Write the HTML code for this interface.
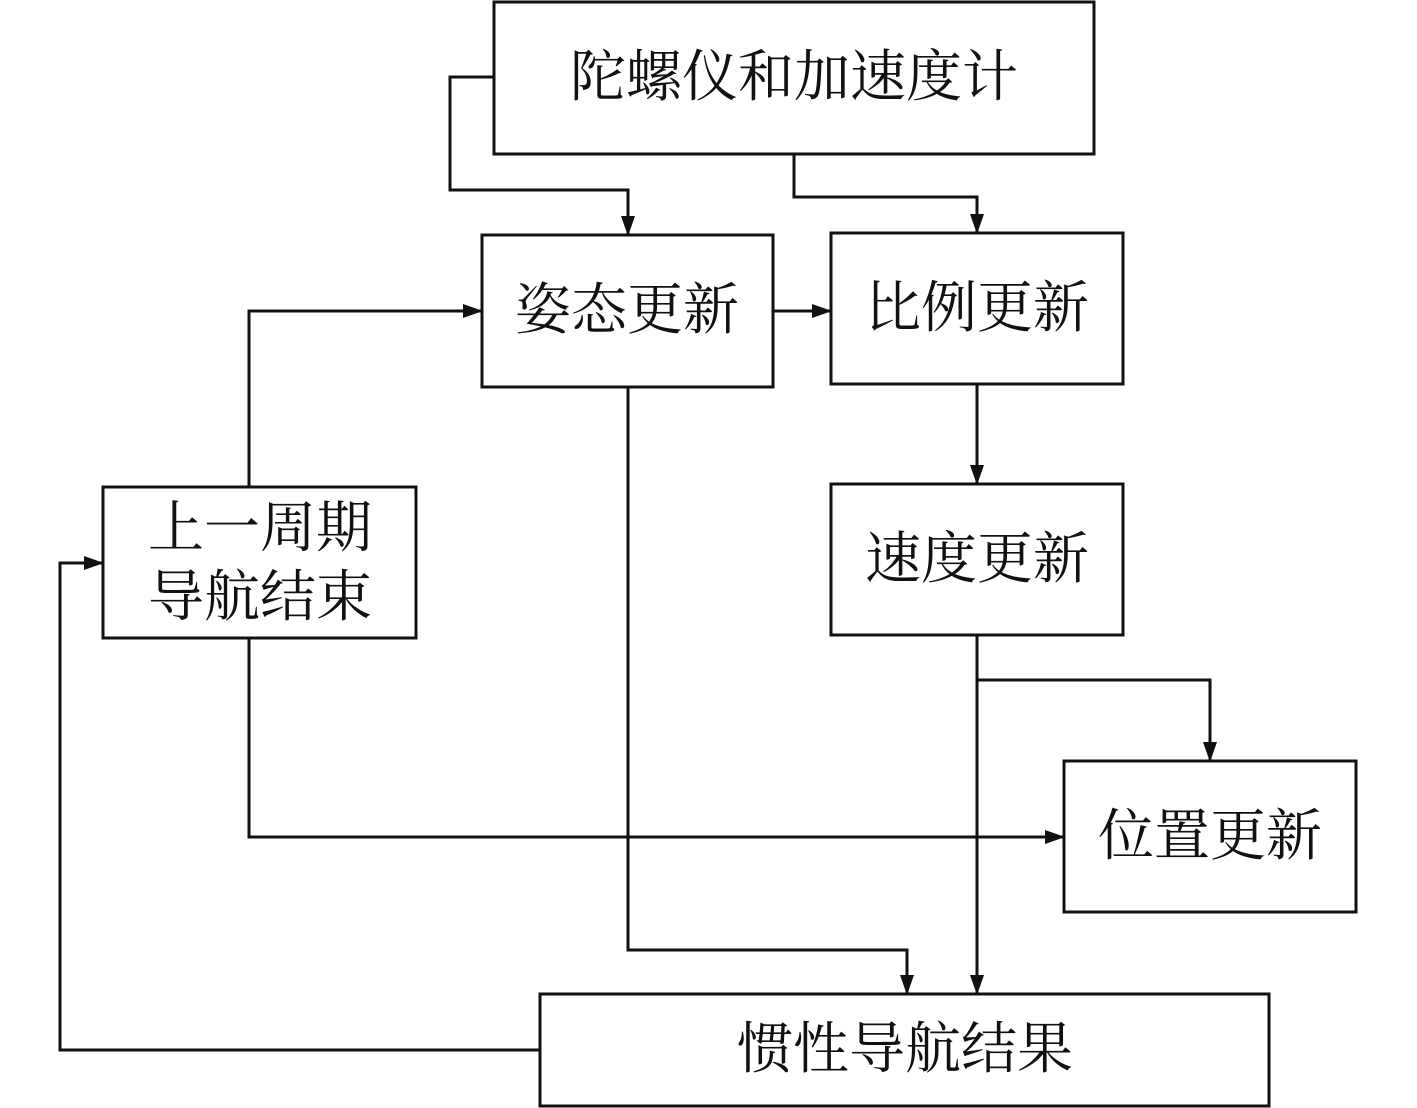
<!DOCTYPE html>
<html><head><meta charset="utf-8"><style>
html,body{margin:0;padding:0;background:#fff;}
svg{display:block;}
text{font-family:"Liberation Serif","Noto Serif CJK SC",serif;font-size:56px;fill:#111;text-anchor:middle;dominant-baseline:central;}
</style></head><body>
<svg width="1417" height="1108" viewBox="0 0 1417 1108" xmlns="http://www.w3.org/2000/svg">
<defs><marker id="a" markerWidth="20" markerHeight="14" refX="19" refY="7" orient="auto" markerUnits="userSpaceOnUse"><path d="M0,0 L20,7 L0,14 Z" fill="#111"/></marker></defs>
<g fill="none" stroke="#111" stroke-width="3">
<rect x="494" y="2" width="600" height="152"/>
<rect x="482" y="235" width="291" height="152"/>
<rect x="831" y="233" width="292" height="151"/>
<rect x="831" y="484" width="292" height="151"/>
<rect x="103" y="487" width="313" height="151"/>
<rect x="1064" y="761" width="292" height="151"/>
<rect x="540" y="994" width="729" height="112"/>
<polyline points="494,77 450,77 450,190 628,190 628,235" marker-end="url(#a)"/>
<polyline points="794,154 794,197 977,197 977,233" marker-end="url(#a)"/>
<polyline points="773,311 831,311" marker-end="url(#a)"/>
<polyline points="977,384 977,484" marker-end="url(#a)"/>
<polyline points="977,635 977,994" marker-end="url(#a)"/>
<polyline points="977,680 1210,680 1210,761" marker-end="url(#a)"/>
<polyline points="249,487 249,311 482,311" marker-end="url(#a)"/>
<polyline points="249,638 249,837 1064,837" marker-end="url(#a)"/>
<polyline points="628,387 628,950 907,950 907,994" marker-end="url(#a)"/>
<polyline points="540,1050 60,1050 60,563 103,563" marker-end="url(#a)"/>
</g>
<text x="794" y="78">陀螺仪和加速度计</text>
<text x="627" y="311">姿态更新</text>
<text x="977" y="309">比例更新</text>
<text x="977" y="560">速度更新</text>
<text x="260" y="529">上一周期</text>
<text x="260" y="598">导航结束</text>
<text x="1210" y="837">位置更新</text>
<text x="905" y="1050">惯性导航结果</text>
</svg>
</body></html>
